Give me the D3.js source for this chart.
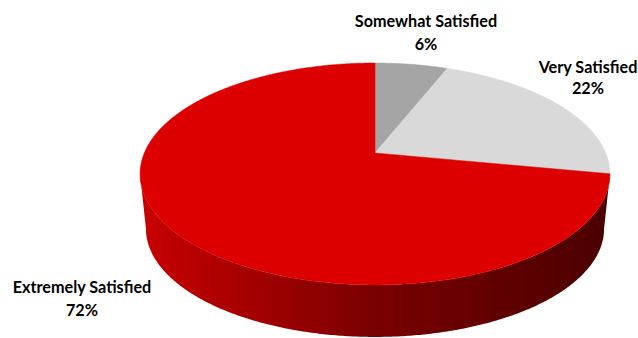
<!DOCTYPE html>
<html><head><meta charset="utf-8">
<script src="https://cdn.jsdelivr.net/npm/d3@7"></script>
<style>body{margin:0;background:#fff}svg{display:block}text{font-family:Lato,"Open Sans",sans-serif;font-weight:700;fill:#000}</style>
</head><body>
<svg id="c" width="638" height="338"></svg>
<script>
const categories = ["Somewhat Satisfied", "Very Satisfied", "Extremely Satisfied"];
const values = [6, 22, 72];
const percentLabels = ["6%", "22%", "72%"];
const topColors = ["#a5a5a5", "#d9d9d9", "#dc0000"];
const sideDark = [["#8a8a8a","#6a6a6a","#4a4a4a"],["#bdbdbd","#9a9a9a","#7a7a7a"],["#c80000","#7a0000","#4a0000"]];

const svg = d3.select("#c");
const defs = svg.append("defs");
// perspective projection parameters
const cx = 375, cy = 153, A = 230.7, B = 107, K = 0.189;
const S = 0.975, VY = 2365;
function proj(theta, r, level) {
  const u = r * Math.sin(theta), v = r * Math.cos(theta);
  let X = cx + A * u / (1 + K * v), Y = cy - B * v / (1 + K * v);
  if (level === 1) { X = cx + S * (X - cx); Y = VY + S * (Y - VY); }
  return [X, Y];
}
const pie = d3.pie().sort(null).value(d => d)(values);
const thL = Math.acos(-K), thR = 2 * Math.PI - thL;
const xL = proj(thR, 1, 0)[0], xR = proj(thL, 1, 0)[0];

const sideG = svg.append("g"), topG = svg.append("g"), labelG = svg.append("g");
pie.forEach((p, i) => {
  const a = Math.max(p.startAngle, thL), b = Math.min(p.endAngle, thR);
  if (b <= a) return;
  const shade = d3.scaleLinear().domain([-1, 0, 1]).range(sideDark[i]);
  const g = defs.append("linearGradient").attr("id", "side" + i)
    .attr("gradientUnits", "userSpaceOnUse").attr("x1", xL).attr("x2", xR).attr("y1", 0).attr("y2", 0);
  const nb = 60;
  for (let j = 0; j < nb; j++) {
    const c = shade(-1 + 2 * (j + 0.5) / nb);
    g.append("stop").attr("offset", j / nb).attr("stop-color", c);
    g.append("stop").attr("offset", (j + 1) / nb).attr("stop-color", c);
  }
  const n = Math.ceil((b - a) / (Math.PI / 360));
  const topPts = [], botPts = [];
  for (let j = 0; j <= n; j++) {
    const t = a + (b - a) * j / n;
    topPts.push(proj(t, 1, 0)); botPts.push(proj(t, 1, 1));
  }
  sideG.append("path").attr("d", d3.line()(topPts.concat(botPts.reverse())) + "Z")
    .attr("fill", "url(#side" + i + ")");
});
pie.forEach((p, i) => {
  const pts = [proj(0, 0, 0)];
  const n = Math.max(4, Math.ceil((p.endAngle - p.startAngle) / (Math.PI / 360)));
  for (let j = 0; j <= n; j++) pts.push(proj(p.startAngle + (p.endAngle - p.startAngle) * j / n, 1, 0));
  topG.append("path").attr("d", d3.line()(pts) + "Z").attr("fill", topColors[i])
    .attr("stroke", topColors[i]).attr("stroke-width", 0.5);
});

const labelPos = [[426, 27, 50], [588, 73, 94], [82, 293, 316]];
categories.forEach((c, i) => {
  const t = labelG.append("text").attr("text-anchor", "middle").attr("font-size", 16.2);
  t.append("tspan").attr("x", labelPos[i][0]).attr("y", labelPos[i][1]).text(c);
  t.append("tspan").attr("x", labelPos[i][0]).attr("y", labelPos[i][2]).text(percentLabels[i]);
});
</script>
</body></html>
